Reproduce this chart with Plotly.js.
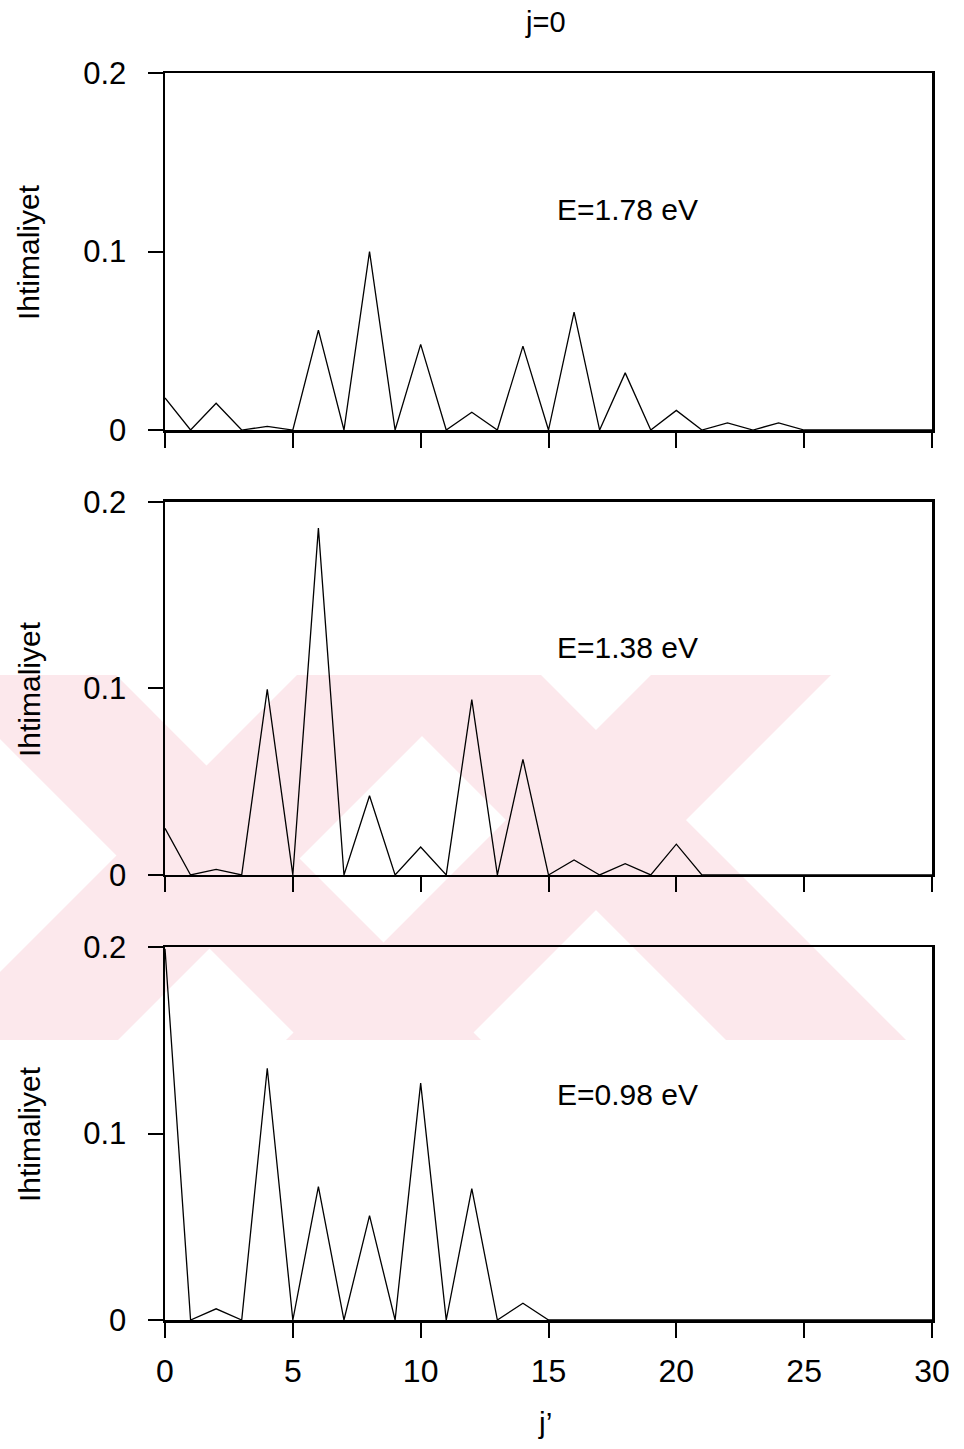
<!DOCTYPE html>
<html>
<head>
<meta charset="utf-8">
<script src="https://cdn.plot.ly/plotly-3.0.1.min.js"></script>
<style>html,body{margin:0;padding:0;background:#fff;}</style>
</head>
<body>
<div id="chart" style="width:964px;height:1449px;"></div>
<script>
// j' values (rotational quantum number)
const jPrime = [0,1,2,3,4,5,6,7,8,9,10,11,12,13,14,15,16,17,18,19,20,21,22,23,24,25,26,27,28,29,30];

// E = 1.78 eV
const probE178 = [0.018,0,0.015,0,0.002,0,0.056,0,0.100,0,0.048,0,0.010,0,0.047,0,0.066,0,0.032,0,0.011,0,0.004,0,0.004,0,0,0,0,0,0];
// E = 1.38 eV
const probE138 = [0.025,0,0.003,0,0.0995,0,0.186,0,0.0425,0,0.015,0,0.094,0,0.062,0,0.008,0,0.006,0,0.0165,0,0,0,0,0,0,0,0,0,0];
// E = 0.98 eV
const probE098 = [0.199,0,0.006,0,0.135,0,0.0715,0,0.056,0,0.127,0,0.0705,0,0.009,0,0,0,0,0,0,0,0,0,0,0,0,0,0,0,0];

const energyLabels = ["E=1.78 eV","E=1.38 eV","E=0.98 eV"];
const yTickVals = [0,0.1,0.2];
const yTickText = ["0","0.1","0.2"];
const xTickVals = [0,5,10,15,20,25,30];
const titleText = "j=0";
const xTitle = "j’";
const yTitle = "Ihtimaliyet";

const FONT = "Liberation Sans, Arial, Helvetica, sans-serif";
const lineStyle = {color:"#000", width:1.3};

const traces = [
  {x:jPrime, y:probE178, type:"scatter", mode:"lines", line:lineStyle, xaxis:"x", yaxis:"y", hoverinfo:"skip"},
  {x:jPrime, y:probE138, type:"scatter", mode:"lines", line:lineStyle, xaxis:"x2", yaxis:"y2", hoverinfo:"skip"},
  {x:jPrime, y:probE098, type:"scatter", mode:"lines", line:lineStyle, xaxis:"x3", yaxis:"y3", hoverinfo:"skip"}
];

function xAx(anchor, showLabels){
  return {
    anchor:anchor, range:[0,30], tickvals:xTickVals,
    showticklabels:showLabels, ticks:"outside", ticklen:15, tickwidth:2, tickcolor:"#000",
    showline:true, linewidth:2.5, linecolor:"#000", mirror:true,
    showgrid:false, zeroline:false, ticklabelstandoff:6,
    tickfont:{family:FONT, size:32, color:"#000"}
  };
}
function yAx(anchor, domain){
  return {
    anchor:anchor, domain:domain, range:[0,0.2], tickvals:yTickVals, ticktext:yTickText,
    ticks:"outside", ticklen:15, tickwidth:2, tickcolor:"#000",
    showline:true, linewidth:2.5, linecolor:"#000", mirror:true,
    showgrid:false, zeroline:false, ticklabelstandoff:15,
    tickfont:{family:FONT, size:31, color:"#000"}
  };
}

// pixel -> paper helpers (plot area: x 165..932, y 73..1320)
const px = v => (v - 165) / 767;
const py = v => (1320 - v) / 1247;

const annFont = {family:FONT, size:30, color:"#000"};
function ann(text, x, y, extra){
  return Object.assign({text:text, xref:"paper", yref:"paper", x:px(x), y:py(y),
    xanchor:"center", yanchor:"middle", showarrow:false, font:annFont}, extra || {});
}
const annotations = [
  ann(energyLabels[0], 627, 210),
  ann(energyLabels[1], 627, 647),
  ann(energyLabels[2], 627, 1094),
  ann(yTitle, 29, 252, {textangle:-90}),
  ann(yTitle, 29, 689, {textangle:-90}),
  ann(yTitle, 29, 1134, {textangle:-90}),
  ann(xTitle, 545, 1422),
  ann(titleText, 545, 22, {font:{family:FONT, size:29, color:"#000"}})
];

// faint background watermark (diagonal pink bands)
const wmTop = 675, wmBot = 1040, wmH = wmBot - wmTop;
function band(l, r, dir){
  const pts = [[l, wmTop],[r, wmTop],[r + dir*wmH, wmBot],[l + dir*wmH, wmBot]];
  const d = pts.map((p,i) => (i ? "L" : "M") + px(p[0]).toFixed(4) + "," + py(p[1]).toFixed(4)).join(" ") + " Z";
  return {type:"path", xref:"paper", yref:"paper", path:d, fillcolor:"rgb(252,232,236)",
          line:{width:0}, layer:"below"};
}
const shapes = [
  band(-64, 116, 1),
  band(297, 483, -1),
  band(361, 541, 1),
  band(651, 831, -1)
];

const layout = {
  width:964, height:1449,
  margin:{l:165, r:32, t:73, b:129},
  paper_bgcolor:"#fff", plot_bgcolor:"rgba(0,0,0,0)",
  showlegend:false,
  font:{family:FONT, color:"#000"},
  xaxis: xAx("y", false),
  xaxis2: xAx("y2", false),
  xaxis3: xAx("y3", true),
  yaxis: yAx("x", [0.7137, 1.0]),
  yaxis2: yAx("x2", [0.3569, 0.656]),
  yaxis3: yAx("x3", [0.0, 0.2991]),
  annotations: annotations,
  shapes: shapes
};

Plotly.newPlot("chart", traces, layout, {displayModeBar:false, staticPlot:true});
</script>
</body>
</html>
